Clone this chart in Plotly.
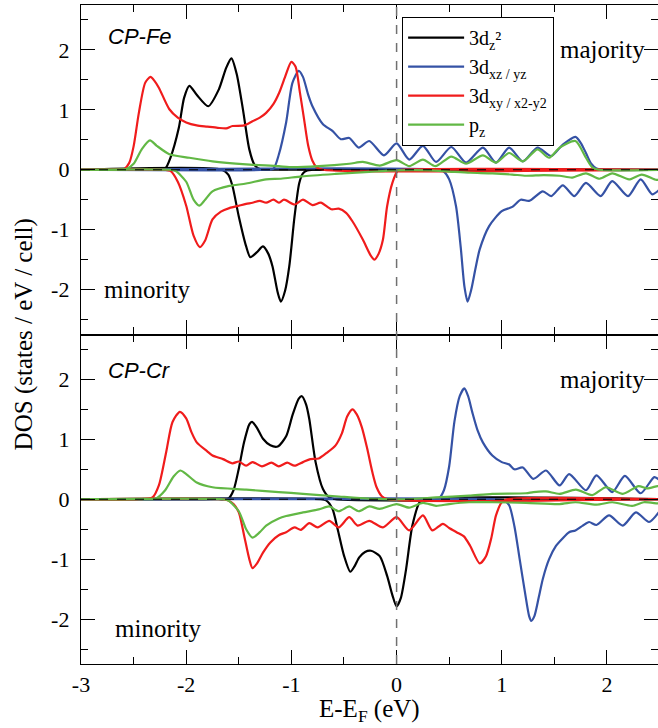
import plotly.graph_objects as go
from plotly.subplots import make_subplots

# ---------------- CP-Fe (top panel) ----------------
fe_dz2_up_x = [-3.0, -2.3, -2.2, -2.15, -2.07, -2.02, -1.97, -1.9, -1.79, -1.69, -1.62, -1.57, -1.52, -1.46, -1.4, -1.35, -1.3, -1.2, 2.5]
fe_dz2_up_y = [0, 0, 0.02, 0.2, 0.7, 1.2, 1.40, 1.25, 1.06, 1.34, 1.7, 1.86, 1.6, 1.0, 0.34, 0.08, 0.01, 0, 0]
fe_dz2_dn_x = [-3.0, -1.66, -1.6, -1.56, -1.5, -1.43, -1.39, -1.33, -1.27, -1.22, -1.18, -1.13, -1.1, -1.06, -1.02, -0.97, -0.925, -0.89, -0.85, -0.8, 2.5]
fe_dz2_dn_y = [0, 0, -0.08, -0.27, -0.78, -1.28, -1.46, -1.38, -1.28, -1.4, -1.61, -2.05, -2.2, -2.02, -1.61, -0.78, -0.22, -0.06, -0.01, 0, 0]

fe_dxz_up_x = [-3.0, -1.25, -1.17, -1.12, -1.05, -0.99, -0.93, -0.89, -0.84, -0.8, -0.7, -0.61, -0.53, -0.45, -0.36, -0.26, -0.12, 0.0, 0.12, 0.25, 0.375, 0.52, 0.66, 0.82, 0.945, 1.07, 1.2, 1.34, 1.47, 1.58, 1.7, 1.75, 1.8, 1.85, 1.9, 1.95, 2.5]
fe_dxz_up_y = [0, 0, 0.02, 0.25, 0.79, 1.45, 1.65, 1.55, 1.25, 1.06, 0.76, 0.65, 0.51, 0.53, 0.37, 0.48, 0.24, 0.44, 0.17, 0.40, 0.13, 0.38, 0.12, 0.37, 0.12, 0.37, 0.14, 0.37, 0.23, 0.42, 0.55, 0.45, 0.28, 0.1, 0.02, 0, 0]
fe_dxz_dn_x = [-3.0, 0.4, 0.45, 0.5, 0.565, 0.61, 0.645, 0.675, 0.71, 0.75, 0.79, 0.88, 1.0, 1.1, 1.18, 1.26, 1.39, 1.47, 1.58, 1.69, 1.80, 1.94, 2.05, 2.2, 2.32, 2.43, 2.5]
fe_dxz_dn_y = [0, 0, -0.03, -0.16, -0.61, -1.3, -1.95, -2.2, -2.0, -1.65, -1.33, -0.94, -0.69, -0.62, -0.50, -0.52, -0.36, -0.44, -0.26, -0.44, -0.22, -0.44, -0.19, -0.44, -0.16, -0.41, -0.33]

fe_dxy_up_x = [-3.0, -2.65, -2.59, -2.54, -2.5, -2.45, -2.39, -2.34, -2.3, -2.26, -2.16, -2.08, -2.0, -1.9, -1.8, -1.7, -1.62, -1.56, -1.45, -1.37, -1.3, -1.24, -1.17, -1.115, -1.06, -1.0, -0.96, -0.92, -0.88, -0.84, -0.8, -0.76, -0.7, 2.5]
fe_dxy_up_y = [0, 0, 0.01, 0.12, 0.39, 0.95, 1.45, 1.55, 1.48, 1.37, 1.01, 0.87, 0.79, 0.74, 0.72, 0.70, 0.69, 0.73, 0.74, 0.81, 0.87, 0.95, 1.1, 1.29, 1.55, 1.80, 1.72, 1.3, 0.85, 0.4, 0.15, 0.04, 0, 0]
fe_dxy_dn_x = [-3.0, -2.2, -2.15, -2.08, -2.0, -1.93, -1.87, -1.82, -1.75, -1.67, -1.59, -1.5, -1.43, -1.37, -1.3, -1.24, -1.17, -1.12, -1.07, -0.97, -0.89, -0.8, -0.72, -0.62, -0.55, -0.48, -0.42, -0.32, -0.25, -0.21, -0.17, -0.13, -0.09, -0.04, 0.01, 0.05, 2.5]
fe_dxy_dn_y = [0, 0, -0.02, -0.2, -0.6, -1.1, -1.29, -1.18, -0.83, -0.7, -0.64, -0.6, -0.57, -0.55, -0.52, -0.55, -0.5, -0.55, -0.50, -0.58, -0.50, -0.59, -0.55, -0.66, -0.65, -0.72, -0.86, -1.17, -1.42, -1.50, -1.4, -1.17, -0.61, -0.22, -0.02, 0, 0]

fe_pz_up_x = [-3.0, -2.65, -2.57, -2.5, -2.42, -2.344, -2.28, -2.16, -1.97, -1.75, -1.43, -1.12, -1.02, -0.74, -0.45, -0.32, -0.16, 0.0, 0.12, 0.25, 0.37, 0.52, 0.66, 0.82, 0.945, 1.07, 1.2, 1.34, 1.45, 1.55, 1.70, 1.80, 1.86, 1.92, 2.5]
fe_pz_up_y = [0, 0, 0.01, 0.1, 0.35, 0.49, 0.4, 0.26, 0.20, 0.14, 0.09, 0.06, 0.045, 0.06, 0.10, 0.13, 0.07, 0.16, 0.06, 0.17, 0.06, 0.22, 0.1, 0.24, 0.12, 0.28, 0.14, 0.34, 0.2, 0.37, 0.48, 0.2, 0.04, 0, 0]
fe_pz_dn_x = [-3.0, -2.15, -2.1, -2.0, -1.93, -1.876, -1.82, -1.75, -1.59, -1.43, -1.24, -1.1, -0.9, -0.58, -0.26, 0.0, 0.3, 0.5, 0.7, 0.91, 1.1, 1.23, 1.4, 1.55, 1.67, 1.8, 1.93, 2.05, 2.21, 2.33, 2.47, 2.5]
fe_pz_dn_y = [0, 0, -0.02, -0.2, -0.5, -0.6, -0.5, -0.36, -0.27, -0.23, -0.16, -0.15, -0.11, -0.07, -0.035, -0.01, -0.01, -0.03, -0.05, -0.06, -0.08, -0.1, -0.09, -0.1, -0.13, -0.06, -0.15, -0.06, -0.16, -0.08, -0.17, -0.16]

# ---------------- CP-Cr (bottom panel) ----------------
cr_dz2_up_x = [-3.0, -1.7, -1.6, -1.55, -1.5, -1.45, -1.4, -1.375, -1.33, -1.27, -1.2, -1.13, -1.05, -0.99, -0.93, -0.9, -0.86, -0.83, -0.77, -0.7, -0.64, -0.58, 2.5]
cr_dz2_up_y = [0, 0, 0.01, 0.15, 0.51, 0.95, 1.25, 1.29, 1.2, 1.01, 0.9, 0.88, 1.05, 1.40, 1.68, 1.72, 1.58, 1.34, 0.62, 0.17, 0.03, 0, 0]
cr_dz2_dn_x = [-3.0, -0.72, -0.67, -0.61, -0.56, -0.5, -0.44, -0.4, -0.355, -0.3, -0.243, -0.16, -0.09, -0.04, 0.0, 0.04, 0.09, 0.15, 0.22, 0.27, 2.5]
cr_dz2_dn_y = [0, 0, -0.02, -0.16, -0.5, -0.94, -1.21, -1.12, -0.97, -0.88, -0.86, -0.95, -1.28, -1.6, -1.79, -1.65, -1.17, -0.44, -0.05, 0, 0]

cr_dxz_up_x = [-3.0, 0.3, 0.4, 0.45, 0.5, 0.55, 0.6, 0.644, 0.68, 0.72, 0.77, 0.82, 0.91, 1.0, 1.07, 1.12, 1.2, 1.3, 1.42, 1.55, 1.64, 1.8, 1.9, 2.05, 2.17, 2.32, 2.45, 2.5]
cr_dxz_up_y = [0, 0, 0.01, 0.15, 0.55, 1.3, 1.72, 1.85, 1.72, 1.45, 1.15, 0.95, 0.73, 0.62, 0.58, 0.5, 0.53, 0.34, 0.48, 0.23, 0.42, 0.15, 0.40, 0.12, 0.39, 0.10, 0.37, 0.32]
cr_dxz_dn_x = [-3.0, 0.95, 1.02, 1.07, 1.12, 1.17, 1.22, 1.26, 1.28, 1.31, 1.35, 1.39, 1.45, 1.515, 1.58, 1.64, 1.7, 1.77, 1.83, 1.9, 2.02, 2.15, 2.275, 2.4, 2.5]
cr_dxz_dn_y = [0, 0, -0.02, -0.1, -0.45, -1.0, -1.55, -1.95, -2.03, -1.95, -1.65, -1.33, -1.0, -0.78, -0.65, -0.55, -0.52, -0.44, -0.38, -0.43, -0.27, -0.44, -0.22, -0.38, -0.2]

cr_dxy_up_x = [-3.0, -2.45, -2.32, -2.26, -2.19, -2.13, -2.06, -2.0, -1.95, -1.9, -1.8, -1.75, -1.65, -1.56, -1.5, -1.43, -1.37, -1.28, -1.19, -1.12, -1.04, -0.97, -0.89, -0.82, -0.74, -0.66, -0.58, -0.52, -0.47, -0.42, -0.38, -0.33, -0.28, -0.23, -0.19, -0.14, -0.08, 2.5]
cr_dxy_up_y = [0, 0, 0.03, 0.23, 0.79, 1.29, 1.46, 1.35, 1.12, 0.95, 0.8, 0.73, 0.67, 0.60, 0.63, 0.56, 0.62, 0.55, 0.61, 0.55, 0.61, 0.56, 0.62, 0.67, 0.68, 0.78, 0.9, 1.1, 1.38, 1.5, 1.42, 1.2, 0.85, 0.45, 0.2, 0.05, 0, 0]
cr_dxy_dn_x = [-3.0, -1.65, -1.6, -1.55, -1.5, -1.45, -1.4, -1.37, -1.33, -1.27, -1.2, -1.12, -1.05, -0.97, -0.91, -0.83, -0.75, -0.64, -0.55, -0.45, -0.37, -0.26, -0.13, 0.0, 0.12, 0.25, 0.34, 0.44, 0.5, 0.57, 0.64, 0.7, 0.79, 0.85, 0.9, 0.945, 1.0, 1.05, 2.5]
cr_dxy_dn_y = [0, 0, -0.02, -0.08, -0.22, -0.6, -1.0, -1.15, -1.08, -0.89, -0.72, -0.6, -0.55, -0.47, -0.51, -0.40, -0.47, -0.36, -0.47, -0.30, -0.44, -0.36, -0.47, -0.30, -0.52, -0.27, -0.52, -0.41, -0.48, -0.55, -0.62, -0.78, -1.07, -0.95, -0.65, -0.27, -0.05, 0, 0]

cr_pz_up_x = [-3.0, -2.4, -2.29, -2.2, -2.12, -2.056, -2.0, -1.9, -1.75, -1.43, -1.12, -0.89, -0.58, -0.26, 0.06, 0.375, 0.69, 0.91, 1.23, 1.3, 1.42, 1.55, 1.705, 1.86, 1.99, 2.15, 2.3, 2.38, 2.48, 2.5]
cr_pz_up_y = [0, 0, 0.01, 0.15, 0.38, 0.48, 0.42, 0.28, 0.2, 0.16, 0.12, 0.09, 0.05, 0.01, 0.0, 0.03, 0.06, 0.09, 0.1, 0.12, 0.13, 0.09, 0.16, 0.07, 0.2, 0.09, 0.22, 0.18, 0.22, 0.22]
cr_pz_dn_x = [-3.0, -1.65, -1.6, -1.5, -1.43, -1.37, -1.3, -1.24, -1.12, -1.05, -0.89, -0.74, -0.64, -0.55, -0.45, -0.36, -0.26, -0.16, 0.0, 0.12, 0.25, 0.375, 0.5, 0.69, 0.91, 1.23, 1.55, 1.7, 1.9, 2.05, 2.24, 2.35, 2.48, 2.5]
cr_pz_dn_y = [0, 0, -0.02, -0.2, -0.5, -0.64, -0.55, -0.44, -0.32, -0.28, -0.22, -0.17, -0.12, -0.2, -0.12, -0.2, -0.12, -0.16, -0.08, -0.14, -0.06, -0.11, -0.08, -0.05, -0.05, -0.06, -0.08, -0.05, -0.09, -0.05, -0.11, -0.05, -0.07, -0.07]

names = ["3d<sub>z</sub>²", "3d<sub>xz / yz</sub>", "3d<sub>xy / x2-y2</sub>", "p<sub>z</sub>"]
colors = ["#000000", "#3552a5", "#f01c1c", "#62b845"]

x_tickvals = [-3, -2, -1, 0, 1, 2]
x_ticktext = ["-3", "-2", "-1", "0", "1", "2"]
y_tickvals = [-2, -1, 0, 1, 2]
y_ticktext = ["-2", "-1", "0", "1", "2"]

panels = [
    (1, [(fe_dz2_up_x, fe_dz2_up_y, fe_dz2_dn_x, fe_dz2_dn_y),
         (fe_dxz_up_x, fe_dxz_up_y, fe_dxz_dn_x, fe_dxz_dn_y),
         (fe_dxy_up_x, fe_dxy_up_y, fe_dxy_dn_x, fe_dxy_dn_y),
         (fe_pz_up_x, fe_pz_up_y, fe_pz_dn_x, fe_pz_dn_y)]),
    (2, [(cr_dz2_up_x, cr_dz2_up_y, cr_dz2_dn_x, cr_dz2_dn_y),
         (cr_dxz_up_x, cr_dxz_up_y, cr_dxz_dn_x, cr_dxz_dn_y),
         (cr_dxy_up_x, cr_dxy_up_y, cr_dxy_dn_x, cr_dxy_dn_y),
         (cr_pz_up_x, cr_pz_up_y, cr_pz_dn_x, cr_pz_dn_y)]),
]

fig = make_subplots(rows=2, cols=1, shared_xaxes=True, vertical_spacing=0)

for row, series in panels:
    for i, (ux, uy, dx, dy) in enumerate(series):
        for k, (xs, ys) in enumerate([(ux, uy), (dx, dy)]):
            fig.add_trace(go.Scatter(
                x=xs, y=ys, mode="lines",
                line=dict(color=colors[i], width=2.2, shape="spline", smoothing=0.7),
                name=names[i], legendgroup=names[i],
                showlegend=(row == 1 and k == 0),
            ), row=row, col=1)

serif = "Liberation Serif"
axis_common = dict(
    showline=True, linecolor="black", linewidth=1.3, mirror="allticks",
    ticks="inside", ticklen=14, tickwidth=1.3, tickcolor="black",
    showgrid=False, zeroline=False,
    tickfont=dict(family=serif, size=22, color="black"),
)
for r in (1, 2):
    fig.update_xaxes(range=[-3, 2.485], tickvals=x_tickvals, ticktext=x_ticktext,
                     minor=dict(ticks="inside", ticklen=7, tickwidth=1.3, tickcolor="black",
                                tick0=0, dtick=0.5, showgrid=False),
                     showticklabels=(r == 2), **axis_common, row=r, col=1)
    fig.update_yaxes(range=[-2.75, 2.75], tickvals=y_tickvals, ticktext=y_ticktext,
                     minor=dict(ticks="inside", ticklen=7, tickwidth=1.3, tickcolor="black",
                                tick0=0, dtick=0.5, showgrid=False),
                     ticklabelstandoff=6, **axis_common, row=r, col=1)

shapes = [
    dict(type="line", xref="x", yref="paper", x0=0, x1=0, y0=0, y1=1,
         line=dict(color="#707070", width=1.5, dash="dash")),
    dict(type="line", xref="paper", yref="y", x0=0, x1=1, y0=0, y1=0,
         line=dict(color="black", width=1.2, dash="dash")),
    dict(type="line", xref="paper", yref="y2", x0=0, x1=1, y0=0, y1=0,
         line=dict(color="black", width=1.2, dash="dash")),
]

sans_it = dict(family="Liberation Sans", size=22, color="black")
lab = dict(family=serif, size=25, color="black")
annotations = [
    dict(text="<i>CP-Fe</i>", x=-2.76, y=2.23, xref="x", yref="y", xanchor="left", yanchor="middle",
         showarrow=False, font=sans_it),
    dict(text="<i>CP-Cr</i>", x=-2.76, y=2.15, xref="x2", yref="y2", xanchor="left", yanchor="middle",
         showarrow=False, font=sans_it),
    dict(text="majority", x=2.385, y=2.0, xref="x", yref="y", xanchor="right", yanchor="middle",
         showarrow=False, font=lab),
    dict(text="majority", x=2.385, y=2.0, xref="x2", yref="y2", xanchor="right", yanchor="middle",
         showarrow=False, font=lab),
    dict(text="minority", x=-2.80, y=-2.0, xref="x", yref="y", xanchor="left", yanchor="middle",
         showarrow=False, font=lab),
    dict(text="minority", x=-2.70, y=-2.15, xref="x2", yref="y2", xanchor="left", yanchor="middle",
         showarrow=False, font=lab),
    dict(text="DOS (states / eV / cell)", x=-0.099, y=0.5, xref="paper", yref="paper",
         xanchor="center", yanchor="middle", textangle=-90, showarrow=False, font=lab),
    dict(text="E-E<sub>F</sub> (eV)", x=0.5, y=-0.07, xref="paper", yref="paper",
         xanchor="center", yanchor="middle", showarrow=False, font=lab),
]

fig.update_layout(
    width=658, height=728,
    margin=dict(l=81, r=0, t=5, b=64),
    paper_bgcolor="white", plot_bgcolor="white",
    shapes=shapes, annotations=annotations,
    showlegend=True,
    legend=dict(x=0.556, y=0.982, xanchor="left", yanchor="top",
                bgcolor="white", bordercolor="black", borderwidth=1.3,
                font=dict(family=serif, size=20, color="black"),
                itemwidth=56, tracegroupgap=0),
)

fig.write_html("out.html")
